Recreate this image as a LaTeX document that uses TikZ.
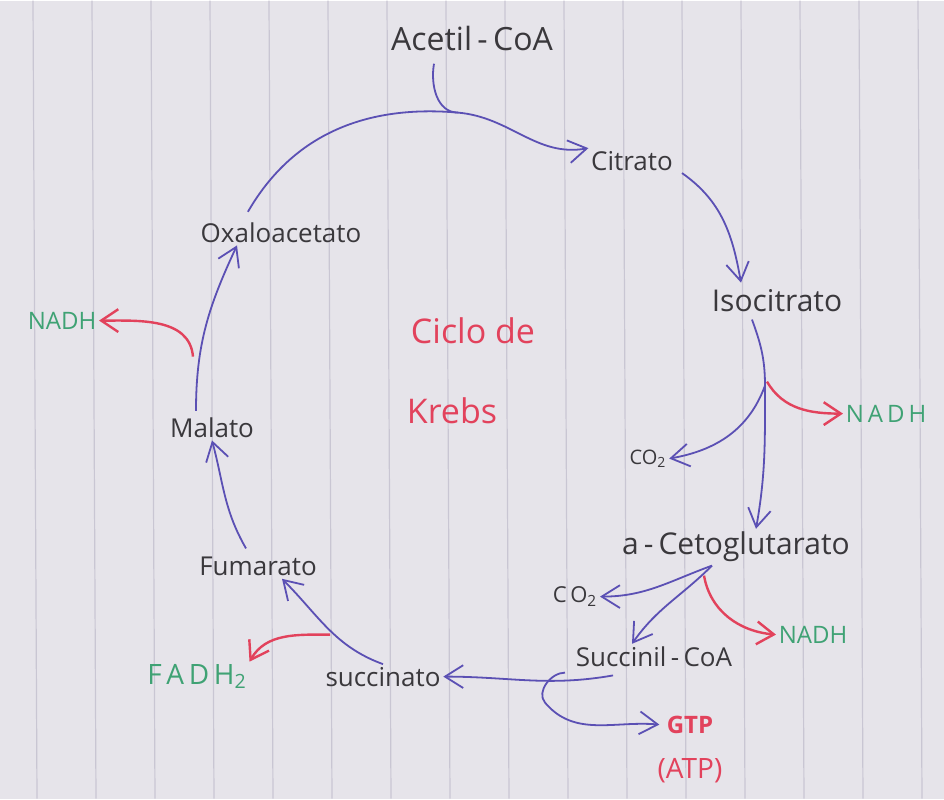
\documentclass[tikz,border=0pt]{standalone}
\usepackage{fontspec}
\setmainfont{Open Sans}
\usetikzlibrary{arrows.meta}
\definecolor{paper}{HTML}{E6E4EA}
\definecolor{rule}{HTML}{C9C6D3}
\definecolor{ink}{HTML}{3A383C}
\definecolor{pen}{HTML}{5B50B4}
\definecolor{redpen}{HTML}{E2425C}
\definecolor{greenpen}{HTML}{3FA274}
\begin{document}
\begin{tikzpicture}[x=0.5pt, y=-0.5pt, thick,
    mol/.style = {text=ink, font=\fontsize{13}{15}\selectfont, inner sep=1pt},
    gain/.style = {text=greenpen, font=\fontsize{12}{14}\selectfont, inner sep=1pt},
    title/.style = {text=redpen, font=\fontsize{17}{20}\selectfont, inner sep=1pt},
    step arrow/.style = {draw=pen, line width=0.9pt, -{Straight Barb[length=3.2mm, width=4mm]}},
    red arrow/.style = {draw=redpen, line width=1.2pt, -{Straight Barb[length=3mm, width=4mm]}}]
    % paper
    \fill[paper] (0,0) rectangle (944,798);
    \foreach \x in {33,92,...,944}
        \draw[rule, line width=0.6pt] (\x,0) -- (\x+4,798);
    \useasboundingbox (0,0) rectangle (944,798);
    % molecules
    \node[mol, font=\fontsize{16}{18}\selectfont] (acetil) at (472,38) {Acetil\,-\,CoA};
    \node[mol] (citrato) at (632,160) {Citrato};
    \node[mol, font=\fontsize{15}{17}\selectfont] (isocitrato) at (777,300) {Isocitrato};
    \node[mol, font=\fontsize{10}{12}\selectfont] (co2a) at (648,458) {CO\textsubscript{2}};
    \node[gain] (nadha) at (886,413) {N\,A\,D\,H};
    \node[mol, font=\fontsize{15}{17}\selectfont] (ceto) at (736,546) {a\,-\,Cetoglutarato};
    \node[mol, font=\fontsize{11}{13}\selectfont] (co2b) at (575,596) {C\,O\textsubscript{2}};
    \node[gain] (nadhb) at (813,634) {NADH};
    \node[mol] (succinil) at (654,656) {Succinil\,-\,CoA};
    \node[text=redpen, font=\bfseries\fontsize{12}{14}\selectfont] (gtp) at (690,724) {GTP};
    \node[text=redpen, font=\fontsize{14}{16}\selectfont] (atp) at (690,770) {(ATP)};
    \node[mol] (succinato) at (383,676) {succinato};
    \node[gain, font=\fontsize{14}{16}\selectfont] (fadh) at (197,676) {F\,A\,D\,H\textsubscript{2}};
    \node[mol] (fumarato) at (258,566) {Fumarato};
    \node[mol] (malato) at (212,427) {Malato};
    \node[gain] (nadhc) at (62,320) {NADH};
    \node[mol] (oxalo) at (281,232) {Oxaloacetato};
    \node[title] (ciclo) at (473,330) {Ciclo de};
    \node[title] (krebs) at (452,410) {Krebs};
    % branch points
    \coordinate (joinA) at (458,112);
    \coordinate (forkB) at (765,385);
    \coordinate (forkC) at (712,565);
    \coordinate (forkD) at (565,672);
    \coordinate (forkE) at (330,634);
    \coordinate (forkF) at (193,356);
    % cycle
    \draw[step arrow] (oxalo.north west) ++(50,-8) to[out=60, in=175] (joinA) to[out=-5, in=190] (citrato.north west);
    \draw[pen, line width=0.9pt] (acetil.south) ++(-38,10) to[out=260, in=180] (joinA);
    \draw[step arrow] (citrato.south) ++(50,0) to[out=-35, in=100] ([xshift=-18pt, yshift=2pt]isocitrato.north);
    \draw[step arrow] (isocitrato.south) ++(-25,5) to[out=-70, in=90] (forkB) to[out=-90, in=80] ([xshift=10pt]ceto.north);
    \draw[step arrow] (forkB) to[out=-110, in=10] (co2a.east);
    \draw[red arrow] (forkB) ++(2,-4) to[out=-60, in=180] (nadha.west);
    \draw[step arrow] (forkC) to[out=200, in=0] (co2b.east);
    \draw[step arrow] (forkC) to[out=225, in=55] ([xshift=-11pt]succinil.north);
    \draw[red arrow] (forkC) ++(-8,10) to[out=-80, in=175] (nadhb.west);
    \draw[step arrow] (succinil.south west) ++(40,6) to[out=190, in=0] (succinato.east);
    \draw[step arrow] (forkD) to[out=180, in=130] ++(-20,30) to[out=-50, in=175] (gtp.west);
    \draw[step arrow] (succinato.north) to[out=160, in=-45] ([xshift=12pt]fumarato.south);
    \draw[red arrow] (forkE) to[out=180, in=60] (fadh.north east);
    \draw[step arrow] (fumarato.north) ++(-12,-6) to[out=120, in=-75] (malato.south);
    \draw[step arrow] (malato.north) ++(-16,-4) to[out=90, in=-115] ([xshift=-22pt]oxalo.south);
    \draw[red arrow] (forkF) to[out=95, in=0] (nadhc.east);
\end{tikzpicture}
\end{document}
